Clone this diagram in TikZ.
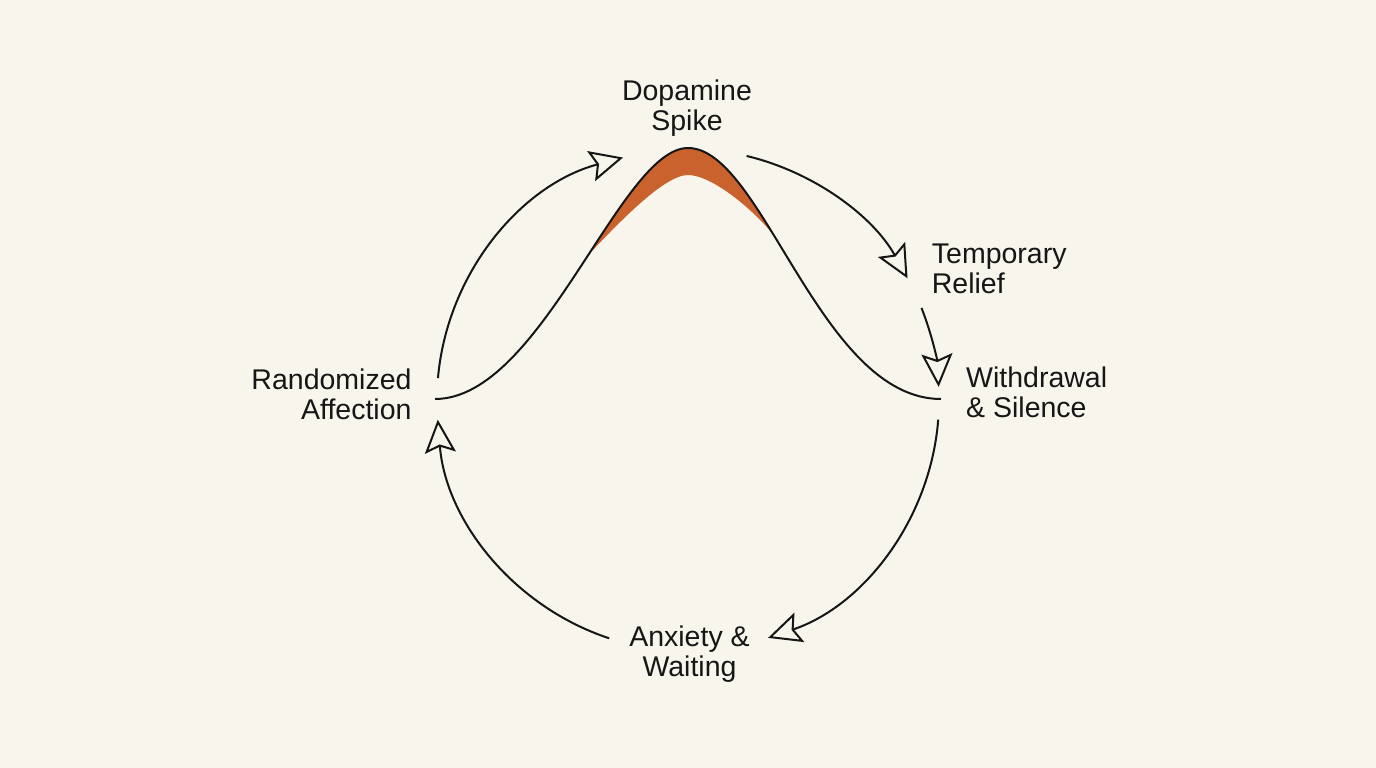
\documentclass[tikz,border=0pt]{standalone}
\usepackage{fontspec}
\setmainfont{Liberation Sans}
\usetikzlibrary{arrows.meta,calc}
\definecolor{bgc}{RGB}{248,245,237}
\definecolor{ink}{RGB}{22,22,22}
\definecolor{spike}{RGB}{202,98,46}
\begin{document}
\begin{tikzpicture}[x=1pt,y=1pt,
  lbl/.style={font=\fontsize{28.5}{29.5}\selectfont, text=ink, inner sep=0pt},
  cyc/.style={draw=ink, line width=2pt, -{Stealth[length=33pt,width=31pt,inset=6pt,fill=bgc]}},
  curveline/.style={draw=ink, line width=2pt}]
\fill[bgc] (0,0) rectangle (1376,-768);
\useasboundingbox (0,0) rectangle (1376,-768);

% labels (anchored on the baseline of the last line)
\node[lbl, anchor=base, align=center] (dop) at (687,-130) {Dopamine\\Spike};
\node[lbl, anchor=base west, align=left] (rel) at (931.7,-293) {Temporary\\Relief};
\node[lbl, anchor=base west, align=left] (wd) at (966,-417) {Withdrawal\\\& Silence};
\node[lbl, anchor=base, align=center] (anx) at (689.5,-676) {Anxiety \&\\Waiting};
\node[lbl, anchor=base east, align=right] (rnd) at (411.7,-419) {Randomized\\Affection};

% spike fill: between outer curve and inner curve
\begin{scope}
\clip (435,-399) .. controls (541.7,-399) and (620.3,-148) .. (688,-148)
      .. controls (762.7,-148) and (820.1,-399) .. (941,-399) -- (941,-460) -- (435,-460) -- cycle;
\fill[spike] (558.4,-286.2) -- (588.4,-254.7) .. controls (618.4,-223.2) and (664,-175) .. (688,-175)
      .. controls (712,-175) and (754.5,-210.3) .. (774.5,-236.3) -- (804.5,-275.3) -- (804.5,-120) -- (558.4,-120) -- cycle;
\end{scope}

% bell curve
\draw[curveline] (435,-399) .. controls (541.7,-399) and (620.3,-148) .. (688,-148)
      .. controls (762.7,-148) and (820.1,-399) .. (941,-399);

% cycle arrows
\coordinate (c) at (688,-400);
\coordinate (s1) at ($(c)+(175:251pt)$);
\coordinate (s2) at ($(c)+(76.5:251pt)$);
\coordinate (s3) at ($(c)+(21.5:251pt)$);
\coordinate (s4) at ($(c)+(-4.5:251pt)$);
\coordinate (s5) at ($(c)+(-108.3:251pt)$);
\draw[cyc] (s1) arc[start angle=175,end angle=105,radius=251pt];
\draw[cyc] (s2) arc[start angle=76.5,end angle=29,radius=251pt];
\draw[cyc] (s3) arc[start angle=21.5,end angle=3,radius=251pt];
\draw[cyc] (s4) arc[start angle=-4.5,end angle=-71.4,radius=251pt];
\draw[cyc] (s5) arc[start angle=-108.3,end angle=-175.5,radius=251pt];
\end{tikzpicture}
\end{document}
